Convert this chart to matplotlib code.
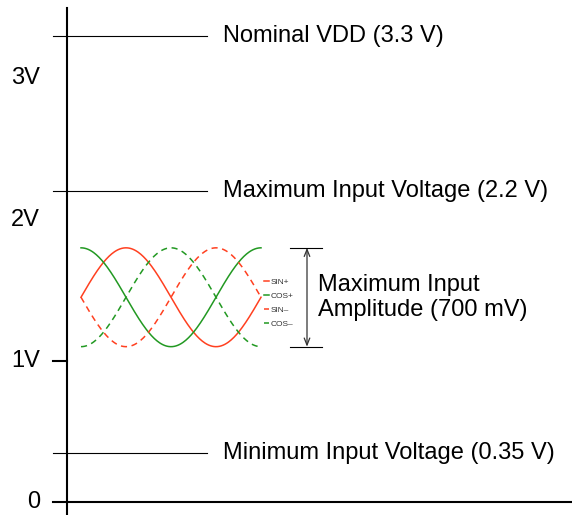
import numpy as np
import matplotlib.pyplot as plt

# voltage levels (V) and their labels
levels = [3.3, 2.2, 0.35]
level_labels = ["Nominal VDD (3.3 V)",
                "Maximum Input Voltage (2.2 V)",
                "Minimum Input Voltage (0.35 V)"]
ytick_vals = [0, 1, 2, 3]
ytick_labels = ["0", "1V", "2V", "3V"]

# resolver signals: common mode and amplitude (V)
v_mid = 1.45
v_amp = 0.35
series_names = ["SIN+", "COS+", "SIN\u2013", "COS\u2013"]
series_phase = [0, 90, 180, 270]   # degrees
series_color = ["#ff4020", "#229922", "#ff4020", "#229922"]
series_style = ["-", "-", "--", "--"]

plt.rcParams["font.family"] = ["Liberation Sans", "DejaVu Sans"]

fig = plt.figure(figsize=(5.72, 5.15), dpi=100)
ax = fig.add_axes([0, 0, 1, 1])
ax.set_xlim(0, 572)
ax.set_ylim(-0.092, 3.555)
ax.axis("off")

# axes lines
ax.plot([67, 67], [-0.1, 3.5], color="black", lw=1.5)
ax.plot([53, 572], [0, 0], color="black", lw=1.5)
ax.plot([53, 67], [1, 1], color="black", lw=1.5)

for v, s in zip(ytick_vals, ytick_labels):
    ax.text(40, v, s, ha="right", va="center", fontsize=17)

for v, s in zip(levels, level_labels):
    ax.plot([53, 207], [v, v], color="black", lw=0.8)
    ax.text(223, v, s, ha="left", va="center", fontsize=17)

# waveforms over one period
deg = np.linspace(0, 360, 200)
xs = 81 + deg * 0.5
for name, ph, c, ls in zip(series_names, series_phase, series_color, series_style):
    ax.plot(xs, v_mid + v_amp * np.sin(np.radians(deg + ph)), color=c, ls=ls,
            lw=1.1, dashes=(4, 3) if ls == "--" else (None, None), label=name)

# amplitude bracket
top, bot = v_mid + v_amp, v_mid - v_amp
ax.plot([290, 322], [top, top], color="black", lw=0.8)
ax.plot([290, 322], [bot, bot], color="black", lw=0.8)
ax.annotate("", xy=(307, top), xytext=(307, bot),
            arrowprops=dict(arrowstyle="<->,head_length=0.5,head_width=0.2",
                            color="#333333", lw=0.9,
                            shrinkA=0, shrinkB=0))
ax.text(318, v_mid, "Maximum Input\nAmplitude (700 mV)", ha="left",
        va="center", fontsize=17, linespacing=1.15)

leg = ax.legend(loc="upper left", bbox_to_anchor=(264 / 572, 1 - 278 / 515),
                frameon=False, fontsize=6, handlelength=0.6, handletextpad=0.15,
                labelspacing=0.75, borderpad=0, borderaxespad=0)
for t in leg.get_texts():
    t.set_color("#333333")

plt.savefig("out.png", dpi=100)
